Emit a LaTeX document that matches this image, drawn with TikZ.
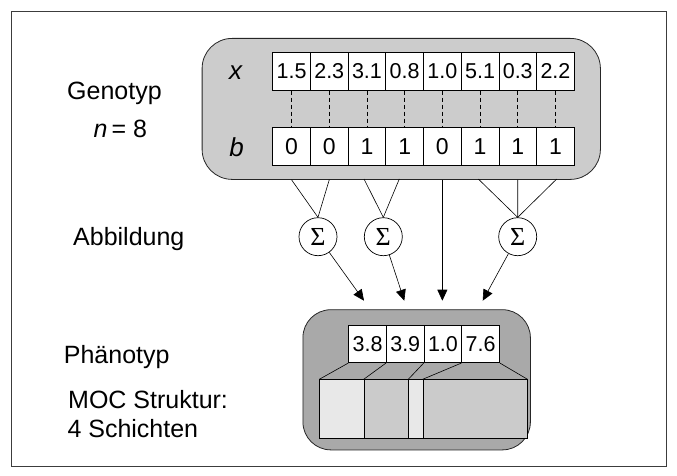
\documentclass[tikz,border=0pt]{standalone}
\usepackage{fontspec}
\setmainfont{Liberation Sans}
\newfontfamily\sigmafont{Liberation Serif}
\usetikzlibrary{arrows.meta,backgrounds}

\definecolor{genofill}{HTML}{CCCCCC}
\definecolor{phenofill}{HTML}{A9A9A9}
\definecolor{layerlight}{HTML}{E8E8E8}
\definecolor{layermid}{HTML}{CBCBCB}
\definecolor{framegray}{HTML}{3C3C3C}

\tikzset{
  cell/.style={draw=black, fill=white, line width=0.8pt, minimum width=37.7pt,
    minimum height=37.5pt, inner sep=0pt, font=\fontsize{21.5}{24}\selectfont},
  bitcell/.style={cell, font=\fontsize{23}{26}\selectfont},
  lbl/.style={inner sep=0pt, anchor=base west, font=\fontsize{25}{29}\selectfont},
  rowname/.style={inner sep=0pt, anchor=base, font=\fontsize{26}{30}\selectfont\itshape},
  panel/.style={draw=black!85, line width=0.8pt, inner sep=0pt, anchor=north west},
  sumnode/.style={draw=black, fill=white, circle, line width=0.7pt, minimum size=38pt,
    inner sep=0pt, font=\sigmafont\fontsize{26}{28}\selectfont},
  layer/.style={draw=black, line width=0.8pt, inner sep=0pt, anchor=north west,
    minimum height=59pt},
  link/.style={draw=black, line width=0.6pt},
  arr/.style={draw=black, line width=0.6pt, -{Triangle[length=11pt,width=10pt]}},
  guide/.style={draw=black, line width=0.6pt, dash pattern=on 4pt off 3pt},
}

\begin{document}
\begin{tikzpicture}[x=1pt, y=-1pt]
  \useasboundingbox (0,0) rectangle (677,476);

  % outer frame
  \node[draw=framegray, line width=1.2pt, inner sep=0pt, anchor=north west,
        minimum width=655pt, minimum height=455pt] (frame) at (11,11) {};

  % genotype panel with the two rows of genes
  \node[panel, fill=genofill, rounded corners=30pt, minimum width=398.3pt,
        minimum height=141pt] (geno) at (201.7,38) {};

  \foreach \v [count=\i] in {1.5,2.3,3.1,0.8,1.0,5.1,0.3,2.2}
    \node[cell] (gx\i) at ({272.7+37.7*(\i-0.5)},71.4) {\v};
  \foreach \v [count=\i] in {0,0,1,1,0,1,1,1}
    \node[bitcell] (gb\i) at ({272.7+37.7*(\i-0.5)},146.2) {\v};

  \foreach \i in {1,...,8}
    \draw[guide] (gx\i.south) -- (gb\i.north);

  \node[rowname] (xname) at (235.7,80) {x};
  \node[rowname] (bname) at (236.7,156.7) {b};

  % summation units
  \node[sumnode] (s1) at (318,236.7) {Σ};
  \node[sumnode] (s2) at (383.3,236.7) {Σ};
  \node[sumnode] (s3) at (517.7,236.7) {Σ};

  % entry points on the lower edge of the genotype panel
  \coordinate (e1) at (gb1.south |- geno.south);
  \coordinate (e2) at (gb2.south |- geno.south);
  \coordinate (e3) at (364,179);
  \coordinate (e4) at (399.3,179);
  \coordinate (e5) at (gb5.south |- geno.south);
  \coordinate (e6) at (478.3,179);
  \coordinate (e7) at (gb7.south |- geno.south);
  \coordinate (e8) at (556.7,179);

  \draw[link] (e1) -- (s1.north);
  \draw[link] (e2) -- (s1.north);
  \draw[link] (e3) -- (s2.north);
  \draw[link] (e4) -- (s2.north);
  \draw[link] (e6) -- (s3.north);
  \draw[link] (e7) -- (s3.north);
  \draw[link] (e8) -- (s3.north);

  % phenotype panel
  \node[panel, fill=phenofill, rounded corners=28pt, minimum width=227.5pt,
        minimum height=140.2pt] (pheno) at (302.5,309.3) {};

  \foreach \v [count=\i] in {3.8,3.9,1.0,7.6}
    \node[cell] (pc\i) at ({348.7+37.7*(\i-0.5)},343.9) {\v};

  % arrow targets above the phenotype cells
  \coordinate (a1) at (364,300.7);
  \coordinate (a2) at (404.3,300.7);
  \coordinate (a3) at (e5 |- a1);
  \coordinate (a4) at (482.7,300.7);

  \draw[arr] (s1) -- (a1);
  \draw[arr] (s2) -- (a2);
  \draw[arr] (e5) -- (a3);
  \draw[arr] (s3) -- (a4);

  % MOC layers
  \node[layer, fill=layerlight, minimum width=44.4pt]  (l1) at (319.3,379.3) {};
  \node[layer, fill=layermid,   minimum width=44.6pt]  (l2) at (363.7,379.3) {};
  \node[layer, fill=layerlight, minimum width=14.4pt]  (l3) at (408.3,379.3) {};
  \node[layer, fill=layermid,   minimum width=104pt]   (l4) at (422.7,379.3) {};

  \draw[link] (pc1.south west) -- (l1.north west);
  \draw[link] (pc2.south west) -- (l2.north west);
  \draw[link] (pc3.south west) -- (l3.north west);
  \draw[link] (pc4.south west) -- (l4.north west);
  \draw[link] (pc4.south east) -- (l4.north east);

  % side captions
  \node[lbl] (tgeno) at (67,99.3) {Genotyp};
  \node[lbl] (tn) at (93.3,137.3) {{\itshape n}\,= 8};
  \node[lbl] (tmap) at (73,245) {Abbildung};
  \node[lbl] (tpheno) at (63.7,363.3) {Phänotyp};
  \node[lbl] (tmoc) at (68,408.3) {MOC Struktur:};
  \node[lbl] (tlayers) at (67.3,437.3) {4 Schichten};
\end{tikzpicture}
\end{document}
